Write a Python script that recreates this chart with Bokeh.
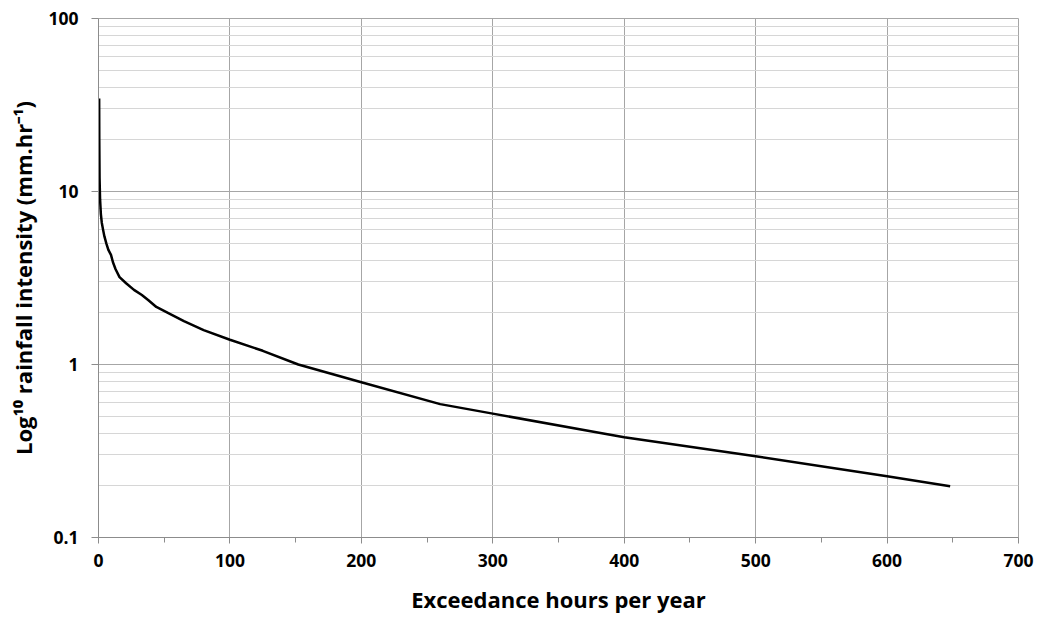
from bokeh.plotting import figure
from bokeh.models import Range1d, FixedTicker
from bokeh.embed import file_html
from bokeh.resources import INLINE

# Exceedance curve: hours per year for which the rainfall intensity is exceeded
hours = [0.5, 0.6, 0.8, 1.2, 1.8, 2.5, 3.5, 4.5, 6, 7.5, 9.5, 11, 13, 16, 21,
         27, 33, 38, 44, 55, 65, 80, 100, 125, 152, 200, 260, 300, 383, 400,
         500, 600, 648]
intensity = [34.5, 20, 12, 9, 7.4, 6.6, 6.0, 5.5, 5.0, 4.6, 4.3, 3.9, 3.55,
             3.2, 2.95, 2.7, 2.52, 2.35, 2.15, 1.95, 1.78, 1.58, 1.39, 1.2,
             1.0, 0.79, 0.59, 0.52, 0.40, 0.38, 0.295, 0.226, 0.198]

x_ticks = [0, 100, 200, 300, 400, 500, 600, 700]
x_minor = [50, 150, 250, 350, 450, 550, 650]
y_ticks = [0.1, 1, 10, 100]
y_tick_labels = ["0.1", "1", "10", "100"]
y_minor = [0.2, 0.3, 0.4, 0.5, 0.6, 0.7, 0.8, 0.9,
           2, 3, 4, 5, 6, 7, 8, 9,
           20, 30, 40, 50, 60, 70, 80, 90]

x_title = "Exceedance hours per year"
y_title = "Log\u00b9\u2070 rainfall intensity (mm.hr\u207b\u00b9)"

FONT = "Open Sans"
AXIS_GREY = "#8c8c8c"
MAJOR_GRID = "#a6a6a6"
MINOR_GRID = "#d6d6d6"

p = figure(width=1046, height=623, y_axis_type="log",
           x_range=Range1d(0, 700), y_range=Range1d(0.1, 100),
           output_backend="svg", toolbar_location=None,
           min_border_left=98, min_border_right=28,
           min_border_top=18, min_border_bottom=86)

p.background_fill_color = "white"
p.border_fill_color = "white"
p.outline_line_color = MAJOR_GRID
p.outline_line_width = 1

# x axis
p.xaxis.ticker = FixedTicker(ticks=x_ticks, minor_ticks=x_minor)
p.xaxis.axis_label = x_title
p.xaxis.axis_line_color = AXIS_GREY
p.xaxis.major_tick_line_color = AXIS_GREY
p.xaxis.minor_tick_line_color = AXIS_GREY
p.xaxis.major_tick_in = 0
p.xaxis.major_tick_out = 6
p.xaxis.minor_tick_in = 0
p.xaxis.minor_tick_out = 5
p.xaxis.major_label_standoff = 10
p.xaxis.axis_label_standoff = 14

# y axis
p.yaxis.ticker = FixedTicker(ticks=y_ticks, minor_ticks=y_minor)
p.yaxis.major_label_overrides = dict(zip(y_ticks, y_tick_labels))
p.yaxis.axis_label = y_title
p.yaxis.axis_line_color = AXIS_GREY
p.yaxis.major_tick_line_color = AXIS_GREY
p.yaxis.major_tick_in = 0
p.yaxis.major_tick_out = 7
p.yaxis.minor_tick_in = 0
p.yaxis.minor_tick_out = 0
p.yaxis.major_label_standoff = 13
p.yaxis.axis_label_standoff = 7

for ax in (p.xaxis, p.yaxis):
    ax.major_label_text_font = FONT
    ax.major_label_text_font_style = "bold"
    ax.major_label_text_font_size = "17.5px"
    ax.major_label_text_color = "black"
    ax.axis_label_text_font = FONT
    ax.axis_label_text_font_style = "bold"
    ax.axis_label_text_font_size = "22px"
    ax.axis_label_text_color = "black"

# grid
p.xgrid.grid_line_color = MAJOR_GRID
p.xgrid.grid_line_width = 1
p.ygrid.grid_line_color = MAJOR_GRID
p.ygrid.grid_line_width = 1
p.ygrid.minor_grid_line_color = MINOR_GRID
p.ygrid.minor_grid_line_width = 1

p.line(hours, intensity, line_color="black", line_width=2.5,
       line_join="round")

open("out.html", "w").write(file_html(p, INLINE))
